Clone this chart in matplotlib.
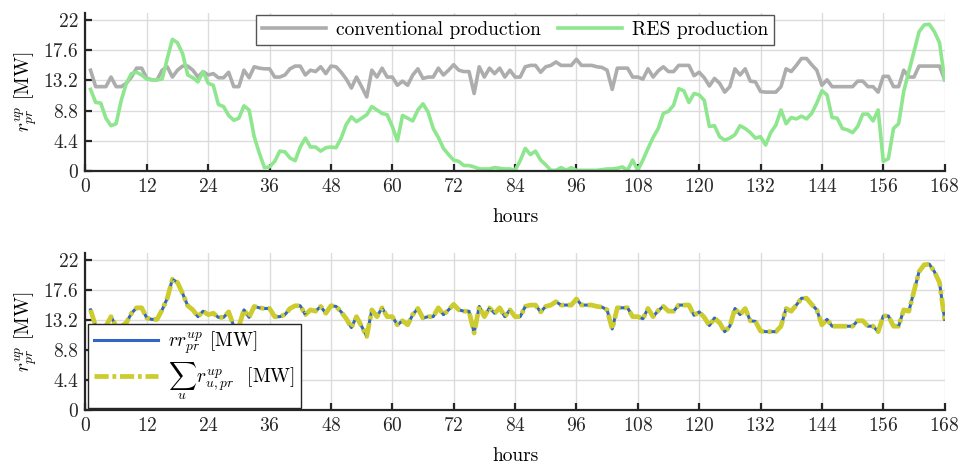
import numpy as np
import matplotlib
matplotlib.use("Agg")
import matplotlib.pyplot as plt

plt.rcParams['font.family'] = ['cmr10', 'DejaVu Serif']
plt.rcParams['mathtext.fontset'] = 'cm'
plt.rcParams['axes.formatter.use_mathtext'] = True
plt.rcParams['font.size'] = 14

hours = list(range(1, 169))

conventional = [
    14.7, 12.3, 12.3, 12.3, 13.7, 12.3, 12.3, 12.8, 13.7, 15.0,
    15.0, 13.5, 13.3, 13.3, 14.7, 15.2, 13.7, 14.7, 15.3, 15.3,
    14.7, 13.7, 14.5, 14.0, 14.2, 13.6, 13.6, 14.4, 12.3, 12.3,
    14.7, 13.6, 15.2, 15.0, 14.9, 14.9, 13.7, 13.7, 14.0, 14.9,
    15.3, 15.3, 14.0, 14.7, 14.5, 15.2, 14.2, 15.3, 15.2, 14.4,
    13.4, 12.1, 13.7, 12.3, 10.8, 14.7, 13.7, 15.0, 13.7, 13.7,
    12.5, 13.1, 12.5, 14.0, 14.9, 13.5, 13.7, 13.7, 15.0, 14.0,
    14.7, 15.5, 14.7, 14.5, 14.5, 11.3, 15.2, 13.7, 15.0, 14.2,
    15.0, 13.7, 14.7, 13.7, 13.7, 15.2, 15.4, 15.4, 14.4, 15.2,
    15.4, 15.9, 15.4, 15.4, 15.4, 16.3, 15.4, 15.4, 15.4, 15.2,
    15.1, 14.7, 11.9, 15.0, 15.0, 15.0, 13.7, 13.7, 13.4, 14.9,
    13.7, 14.6, 15.2, 14.5, 14.5, 15.4, 15.4, 15.4, 13.9, 14.4,
    13.6, 12.4, 13.5, 12.8, 11.5, 12.3, 14.9, 14.0, 14.9, 13.1,
    13.0, 11.6, 11.5, 11.5, 11.5, 12.3, 14.9, 14.5, 15.4, 16.4,
    16.4, 15.5, 14.7, 12.5, 13.3, 12.3, 12.3, 12.3, 12.3, 12.3,
    13.1, 13.1, 12.3, 12.3, 11.5, 13.8, 13.8, 12.3, 12.3, 14.7,
    13.7, 13.7, 15.3, 15.3, 15.3, 15.3, 15.3, 13.3,
]

res = [
    11.9, 10.0, 9.9, 7.7, 6.6, 6.9, 10.3, 12.8, 14.2, 14.4,
    14.0, 13.4, 13.3, 13.3, 13.4, 16.4, 19.2, 18.7, 17.1, 14.0,
    13.6, 13.0, 14.5, 12.8, 12.5, 9.7, 9.4, 8.1, 7.4, 7.7,
    9.5, 8.9, 5.0, 2.6, 0.5, 0.6, 1.4, 2.9, 2.8, 1.9,
    1.5, 3.5, 4.8, 3.5, 3.5, 2.9, 3.4, 3.5, 3.4, 4.8,
    6.8, 7.9, 7.2, 7.7, 8.2, 9.4, 8.9, 8.4, 8.2, 6.5,
    4.4, 8.1, 7.7, 7.3, 8.9, 9.8, 8.6, 6.2, 4.9, 3.3,
    2.4, 1.6, 1.4, 0.8, 0.8, 0.6, 0.3, 0.3, 0.3, 0.5,
    0.4, 0.3, 0.3, 0.1, 1.5, 3.3, 2.4, 2.9, 1.6, 0.9,
    0.1, 0.1, 0.5, 0.1, 0.5, 0.1, 0.1, 0.1, 0.1, 0.1,
    0.2, 0.3, 0.3, 0.4, 0.6, 0.1, 1.6, 0.1, 1.6, 3.3,
    4.9, 6.2, 8.4, 8.7, 9.6, 12.0, 11.7, 10.0, 11.3, 11.1,
    10.3, 6.5, 6.6, 5.0, 4.5, 4.8, 5.3, 6.6, 6.2, 5.6,
    4.8, 5.0, 3.8, 5.6, 6.7, 8.9, 6.9, 7.8, 7.6, 8.0,
    7.6, 8.4, 9.9, 11.7, 11.1, 7.8, 7.7, 6.2, 6.0, 5.6,
    6.5, 8.3, 8.3, 7.3, 8.9, 1.4, 1.8, 6.2, 6.9, 11.6,
    14.5, 17.4, 20.3, 21.3, 21.4, 20.3, 18.7, 13.3,
]

rr_up = [
    14.7, 12.3, 12.3, 12.3, 13.7, 12.3, 12.3, 12.8, 14.2, 15.0,
    15.0, 13.5, 13.3, 13.3, 14.7, 16.4, 19.2, 18.7, 17.1, 15.3,
    14.7, 13.7, 14.5, 14.0, 14.2, 13.6, 13.6, 14.4, 12.3, 12.3,
    14.7, 13.6, 15.2, 15.0, 14.9, 14.9, 13.7, 13.7, 14.0, 14.9,
    15.3, 15.3, 14.0, 14.7, 14.5, 15.2, 14.2, 15.3, 15.2, 14.4,
    13.4, 12.1, 13.7, 12.3, 10.8, 14.7, 13.7, 15.0, 13.7, 13.7,
    12.5, 13.1, 12.5, 14.0, 14.9, 13.5, 13.7, 13.7, 15.0, 14.0,
    14.7, 15.5, 14.7, 14.5, 14.5, 11.3, 15.2, 13.7, 15.0, 14.2,
    15.0, 13.7, 14.7, 13.7, 13.7, 15.2, 15.4, 15.4, 14.4, 15.2,
    15.4, 15.9, 15.4, 15.4, 15.4, 16.3, 15.4, 15.4, 15.4, 15.2,
    15.1, 14.7, 11.9, 15.0, 15.0, 15.0, 13.7, 13.7, 13.4, 14.9,
    13.7, 14.6, 15.2, 14.5, 14.5, 15.4, 15.4, 15.4, 13.9, 14.4,
    13.6, 12.4, 13.5, 12.8, 11.5, 12.3, 14.9, 14.0, 14.9, 13.1,
    13.0, 11.6, 11.5, 11.5, 11.5, 12.3, 14.9, 14.5, 15.4, 16.4,
    16.4, 15.5, 14.7, 12.5, 13.3, 12.3, 12.3, 12.3, 12.3, 12.3,
    13.1, 13.1, 12.3, 12.3, 11.5, 13.8, 13.8, 12.3, 12.3, 14.7,
    14.5, 17.4, 20.3, 21.3, 21.4, 20.3, 18.7, 13.3,
]
sum_r_up = list(rr_up)

xticks = list(range(0, 169, 12))
yticks = [0, 4.4, 8.8, 13.2, 17.6, 22]
ytick_labels = ['0', '4.4', '8.8', '13.2', '17.6', '22']

fig = plt.figure(figsize=(9.6, 4.66), dpi=100)
ax1 = fig.add_axes([0.089, 0.633, 0.895, 0.340])
ax2 = fig.add_axes([0.089, 0.120, 0.895, 0.338])

spine_col = '#262626'
FS = 14

def style(ax):
    ax.set_xlim(0, 168)
    ax.set_ylim(0, 23.1)
    ax.set_xticks(xticks)
    ax.set_yticks(yticks)
    ax.set_yticklabels(ytick_labels)
    ax.grid(True, color='#dcdcdc', linewidth=1.0)
    ax.set_axisbelow(True)
    for s in ['top', 'right']:
        ax.spines[s].set_visible(False)
    for s in ['left', 'bottom']:
        ax.spines[s].set_color(spine_col)
        ax.spines[s].set_linewidth(1.6)
    ax.tick_params(direction='in', length=5, width=1.6, colors=spine_col,
                   labelcolor='#262626', labelsize=FS, pad=5)
    ax.set_xlabel('hours', fontsize=FS, labelpad=9)
    ax.set_ylabel(r'$r_{pr}^{up}$ [MW]', fontsize=FS, labelpad=3)

style(ax1)
style(ax2)

ax1.plot(hours, conventional, color='#adadad', linewidth=2.6, label='conventional production')
ax1.plot(hours, res, color='#8ee68e', linewidth=2.6, label='RES production')
leg1 = ax1.legend(loc='upper center', bbox_to_anchor=(0.5, 0.985), ncol=2,
                  fancybox=False, framealpha=1, edgecolor='#555555',
                  handlelength=3.3, borderaxespad=0, columnspacing=0.9,
                  handletextpad=0.5, borderpad=0.3, fontsize=FS)
leg1.get_frame().set_linewidth(1.0)

ax2.plot(hours, rr_up, color='#3366c0', linewidth=2.2, label=r'$rr^{up}_{pr}$ [MW]')
l2, = ax2.plot(hours, sum_r_up, color='#cccc2e', linewidth=3.4,
               label=r'$\sum_{u}\, r^{up}_{u,pr}$  [MW]')
l2.set_dashes([3.0, 0.8, 0.8, 0.8])
leg2 = ax2.legend(loc='lower left', bbox_to_anchor=(0.003, 0.012),
                  fancybox=False, framealpha=1, edgecolor='#262626',
                  handlelength=3.3, borderaxespad=0, handletextpad=0.5,
                  borderpad=0.3, labelspacing=0.2, fontsize=FS)
leg2.get_frame().set_linewidth(1.0)

fig.savefig('out.png', dpi=100)
